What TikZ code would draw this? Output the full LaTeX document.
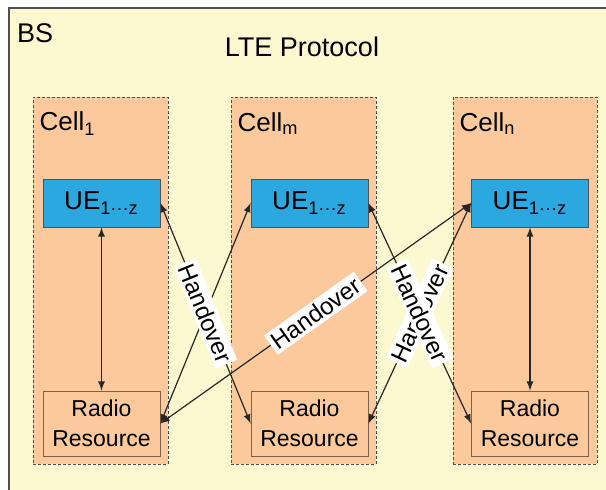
\documentclass[tikz,border=0pt]{standalone}
\usepackage{fontspec}
\setmainfont{Liberation Sans}
\usetikzlibrary{arrows, positioning}
\definecolor{bsyellow}{HTML}{FCF8CF}
\definecolor{cellorange}{HTML}{FBC99B}
\definecolor{ueblue}{HTML}{2BA8E0}
\definecolor{resbrown}{HTML}{7F6048}
\definecolor{linegray}{HTML}{505050}

\begin{document}
\begin{tikzpicture}[x=1pt, y=1pt, node distance=110.25pt, >=latex]
\tikzstyle{cell} = [rectangle, minimum height=183.5pt, draw=linegray, dash pattern=on 1.5pt off 1pt, fill=cellorange, inner sep=0pt]
\tikzstyle{ue} = [rectangle, minimum width=58.5pt, minimum height=24pt, draw=linegray, fill=ueblue, font=\fontsize{13}{15}\selectfont]
\tikzstyle{res} = [rectangle, minimum width=58.5pt, minimum height=32.5pt, draw=resbrown, fill=cellorange, align=center, font=\fontsize{11.5}{15}\selectfont]
\tikzstyle{lbl} = [anchor=west, font=\fontsize{13}{15}\selectfont]
\tikzstyle{ho} = [sloped, fill=white, inner sep=1.5pt, font=\fontsize{12}{13}\selectfont]

\clip (0,0) rectangle (303,244.5);
\draw[fill=bsyellow, draw=linegray, line width=0.6pt] (4.5,-10) rectangle (320,240.5);
\node (bs) [anchor=west, font=\fontsize{13.5}{15}\selectfont] at (5,228) {BS};
\node (lte) [font=\fontsize{13.5}{15}\selectfont] at (151,221.25) {LTE Protocol};

% cells
\node (cell1) [cell, minimum width=67.5pt] at (50.25,104.25) {};
\node (cellm) [cell, minimum width=72.5pt] at (151.75,104.25) {};
\node (celln) [cell, minimum width=72pt] at (262.5,104.25) {};

\node (lab1) [lbl] at ([yshift=-13.5pt]cell1.north west) {Cell\textsubscript{1}};
\node (labm) [lbl] at ([yshift=-13.5pt]cellm.north west) {Cell\textsubscript{m}};
\node (labn) [lbl] at ([yshift=-13.5pt]celln.north west) {Cell\textsubscript{n}};

% UEs and radio resources
\node (ue1) [ue] at (50.75,143) {UE\textsubscript{1···z}};
\node (uem) [ue] at (154.75,143) {UE\textsubscript{1···z}};
\node (uen) [ue] at (265,143) {UE\textsubscript{1···z}};

\node (rr1) [res, below of=ue1] {Radio\\Resource};
\node (rrm) [res, below of=uem] {Radio\\Resource};
\node (rrn) [res, below of=uen] {Radio\\Resource};

% links
\begin{scope}[line width=0.6pt, draw=black!85]
\draw[<->] (ue1) -- (rr1);
\draw[<->] (uen) -- (rrn);
\draw[<->] (rr1.east) -- (uem.west);
\draw[<->] (ue1.east) -- node[ho] {Handover} (rrm.west);
\draw[<->] (rr1.east) -- node[ho] {Handover} (uen.west);
\draw[<->] (rrm.east) -- node[ho] {Handover} (uen.west);
\draw[<->] (uem.east) -- node[ho] {Handover} (rrn.west);
\end{scope}
\end{tikzpicture}
\end{document}
